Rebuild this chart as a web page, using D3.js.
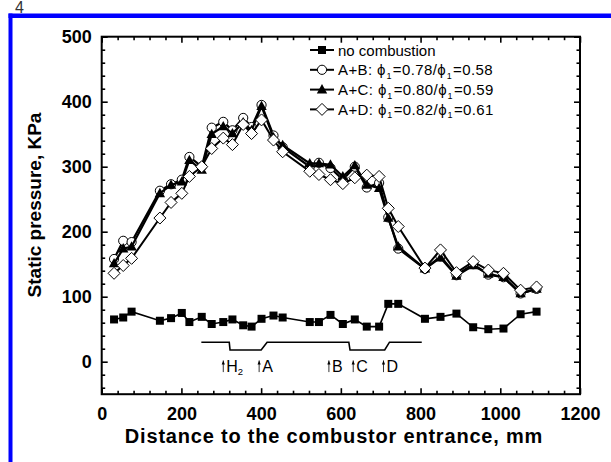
<!DOCTYPE html>
<html>
<head>
<meta charset="utf-8">
<script src="https://cdn.jsdelivr.net/npm/d3@7"></script>
<style>
  body { margin: 0; background: #fff; }
  svg { display: block; font-family: "Liberation Sans", Arial, sans-serif; }
</style>
</head>
<body>
<div id="chart"></div>
<script>
"use strict";

// x positions (mm) shared by all series
var xs = [31, 54, 75, 146, 174, 201, 220, 251, 276, 305, 328, 355, 376, 401, 431, 454,
	522, 545, 574, 605, 635, 665, 696, 719, 744, 811, 850, 890, 932, 970, 1008, 1051, 1091];

var noComb = [65, 68, 77, 63, 67, 75, 61, 69, 58, 61, 65, 56, 54, 66, 71, 68,
	61, 61, 72, 58, 65, 54, 54, 89, 89, 66, 69, 74, 53, 50, 51, 73, 77];
var ab = [158, 186, 184, 263, 273, 280, 315, 300, 360, 369, 356, 375, 361, 395, 348, 330,
	300, 306, 298, 280, 300, 268, 275, 222, 174, 143, 162, 133, 150, 134, 130, 105, 112];
var ac = [151, 174, 177, 259, 272, 277, 310, 295, 350, 362, 351, 368, 356, 393, 345, 333,
	305, 305, 303, 285, 302, 272, 267, 221, 177, 143, 160, 132, 148, 135, 130, 105, 112];
var ad = [136, 148, 159, 221, 245, 259, 285, 300, 328, 344, 334, 365, 351, 372, 341, 323,
	293, 288, 280, 274, 283, 287, 285, 236, 208, 144, 172, 137, 154, 141, 136, 110, 115];

var seriesNames = ["no combustion", "A+B", "A+C", "A+D"];
var phiA = ["", "0.78", "0.80", "0.82"];
var phiB = ["", "0.58", "0.59", "0.61"];

var xTicks = [0, 200, 400, 600, 800, 1000, 1200];
var yTicks = [0, 100, 200, 300, 400, 500];

// combustor outline (mm, kPa)
var wallX = [250, 320, 322, 400, 415, 620, 623, 710, 722, 803];
var wallY = [30, 30, 18, 18, 30, 30, 18, 18, 30, 30];

// injector marks
var markNames = ["H", "A", "B", "C", "D"];
var markX = [305, 395, 570, 631, 707];

var W = 611, H = 462;
var svg = d3.select("#chart").append("svg").attr("width", W).attr("height", H);

// page decoration: blue frame and page number
svg.append("text").attr("x", 15).attr("y", 12.5).attr("font-size", 16)
	.attr("fill", "#333").text("4");
svg.append("rect").attr("x", 8.5).attr("y", 13.5).attr("width", 4).attr("height", H).attr("fill", "#0000ff");
svg.append("rect").attr("x", 8.5).attr("y", 13.5).attr("width", W).attr("height", 4.5).attr("fill", "#0000ff");

var x = d3.scaleLinear().domain([0, 1200]).range([101.7, 580]);
var y = d3.scaleLinear().domain([-50, 500]).range([394.2, 36.7]);

var x0 = x.range()[0], x1 = x.range()[1], y0 = y.range()[0], y1 = y.range()[1];

var xMinor = d3.range(0, 1201, 40).filter(function (v) { return v % 200 !== 0; });
var yMinor = d3.range(-40, 501, 20).filter(function (v) { return v % 100 !== 0; });

function styleAxis(g) {
	g.select(".domain").remove();
	g.selectAll("line").attr("stroke", "#000").attr("stroke-width", 1.6);
	g.selectAll("text").attr("font-size", 18).attr("font-weight", "bold")
		.attr("font-family", "Liberation Sans, Arial, sans-serif").attr("fill", "#000");
}

// bottom
svg.append("g").attr("transform", "translate(0," + y0 + ")")
	.call(d3.axisBottom(x).tickValues(xTicks).tickSize(-6).tickPadding(13).tickFormat(d3.format("d")))
	.call(styleAxis);
svg.append("g").attr("transform", "translate(0," + y0 + ")")
	.call(d3.axisBottom(x).tickValues(xMinor).tickSize(-3.5).tickFormat(""))
	.call(styleAxis);
// top
svg.append("g").attr("transform", "translate(0," + y1 + ")")
	.call(d3.axisTop(x).tickValues(xTicks).tickSize(-6).tickFormat(""))
	.call(styleAxis);
svg.append("g").attr("transform", "translate(0," + y1 + ")")
	.call(d3.axisTop(x).tickValues(xMinor).tickSize(-3.5).tickFormat(""))
	.call(styleAxis);
// left
svg.append("g").attr("transform", "translate(" + x0 + ",0)")
	.call(d3.axisLeft(y).tickValues(yTicks).tickSize(-6).tickPadding(10).tickFormat(d3.format("d")))
	.call(styleAxis);
svg.append("g").attr("transform", "translate(" + x0 + ",0)")
	.call(d3.axisLeft(y).tickValues(yMinor).tickSize(-3.5).tickFormat(""))
	.call(styleAxis);
// right
svg.append("g").attr("transform", "translate(" + x1 + ",0)")
	.call(d3.axisRight(y).tickValues(yTicks).tickSize(-6).tickFormat(""))
	.call(styleAxis);
svg.append("g").attr("transform", "translate(" + x1 + ",0)")
	.call(d3.axisRight(y).tickValues(yMinor).tickSize(-3.5).tickFormat(""))
	.call(styleAxis);

// frame
svg.append("rect").attr("x", x0).attr("y", y1).attr("width", x1 - x0).attr("height", y0 - y1)
	.attr("fill", "none").attr("stroke", "#000").attr("stroke-width", 2);

// axis titles
svg.append("text").attr("x", 334).attr("y", 443).attr("text-anchor", "middle")
	.attr("font-size", 20).attr("font-weight", "bold").attr("letter-spacing", 0.8)
	.text("Distance to the combustor entrance, mm");
svg.append("text").attr("transform", "translate(41,205) rotate(-90)")
	.attr("text-anchor", "middle").attr("font-size", 19).attr("font-weight", "bold")
	.text("Static pressure, KPa");

// combustor outline
var wall = wallX.map(function (v, i) { return [v, wallY[i]]; });
svg.append("path")
	.attr("d", d3.line().x(function (d) { return x(d[0]); }).y(function (d) { return y(d[1]); })(wall))
	.attr("fill", "none").attr("stroke", "#000").attr("stroke-width", 1.6);

// injector arrows
var marks = svg.append("g");
markX.forEach(function (m, i) {
	var px = x(m);
	marks.append("line").attr("x1", px).attr("x2", px).attr("y1", y(-16)).attr("y2", y(2))
		.attr("stroke", "#000").attr("stroke-width", 0.8);
	marks.append("path")
		.attr("d", "M" + (px - 1.6) + "," + (y(2) + 4) + "L" + px + "," + y(2) + "L" + (px + 1.6) + "," + (y(2) + 4) + "Z")
		.attr("fill", "#000");
	var t = marks.append("text").attr("x", px + 3).attr("y", y(-16)).attr("font-size", 16);
	t.append("tspan").text(markNames[i]);
	if (i === 0) {
		t.append("tspan").attr("font-size", 9.5).attr("dy", 3).text("2");
	}
});

// markers
function drawMarker(g, type, cx, cy) {
	if (type === "square") {
		g.append("rect").attr("x", cx - 4).attr("y", cy - 4).attr("width", 8).attr("height", 8)
			.attr("fill", "#000");
	} else if (type === "circle") {
		g.append("circle").attr("cx", cx).attr("cy", cy).attr("r", 4.6)
			.attr("fill", "#fff").attr("stroke", "#000").attr("stroke-width", 1);
	} else if (type === "triangle") {
		g.append("path").attr("d", "M" + cx + "," + (cy - 5.5) + "L" + (cx + 5.2) + "," + (cy + 3.8) + "L" + (cx - 5.2) + "," + (cy + 3.8) + "Z")
			.attr("fill", "#000");
	} else {
		g.append("path").attr("d", "M" + cx + "," + (cy - 6) + "L" + (cx + 6) + "," + cy + "L" + cx + "," + (cy + 6) + "L" + (cx - 6) + "," + cy + "Z")
			.attr("fill", "#fff").attr("stroke", "#000").attr("stroke-width", 1);
	}
}

var allSeries = [noComb, ab, ac, ad];
var types = ["square", "circle", "triangle", "diamond"];
var widths = [1.6, 2.2, 2.2, 2];

var line = d3.line().x(function (d) { return x(d[0]); }).y(function (d) { return y(d[1]); });

allSeries.forEach(function (vals, si) {
	var pts = xs.map(function (v, i) { return [v, vals[i]]; });
	var g = svg.append("g");
	g.append("path").attr("d", line(pts)).attr("fill", "none")
		.attr("stroke", "#000").attr("stroke-width", widths[si]);
	pts.forEach(function (p) { drawMarker(g, types[si], x(p[0]), y(p[1])); });
});

// legend
var leg = svg.append("g");
seriesNames.forEach(function (name, i) {
	var ly = 50 + i * 19.8;
	leg.append("line").attr("x1", 310).attr("x2", 334).attr("y1", ly).attr("y2", ly)
		.attr("stroke", "#000").attr("stroke-width", 2);
	drawMarker(leg, types[i], 322, ly);
	var t = leg.append("text").attr("x", 338).attr("y", ly + 5.5).attr("font-size", 15);
	if (i === 0) {
		t.text(name);
	} else {
		t.attr("letter-spacing", 0.4);
		t.append("tspan").text(name + ": \u03d5");
		t.append("tspan").attr("font-size", 9).attr("dx", 0.5).attr("dy", 3.5).text("1");
		t.append("tspan").attr("dx", 1).attr("dy", -3.5).text("=" + phiA[i] + "/\u03d5");
		t.append("tspan").attr("font-size", 9).attr("dx", 0.5).attr("dy", 3.5).text("1");
		t.append("tspan").attr("dx", 1).attr("dy", -3.5).text("=" + phiB[i]);
	}
});
</script>
</body>
</html>
